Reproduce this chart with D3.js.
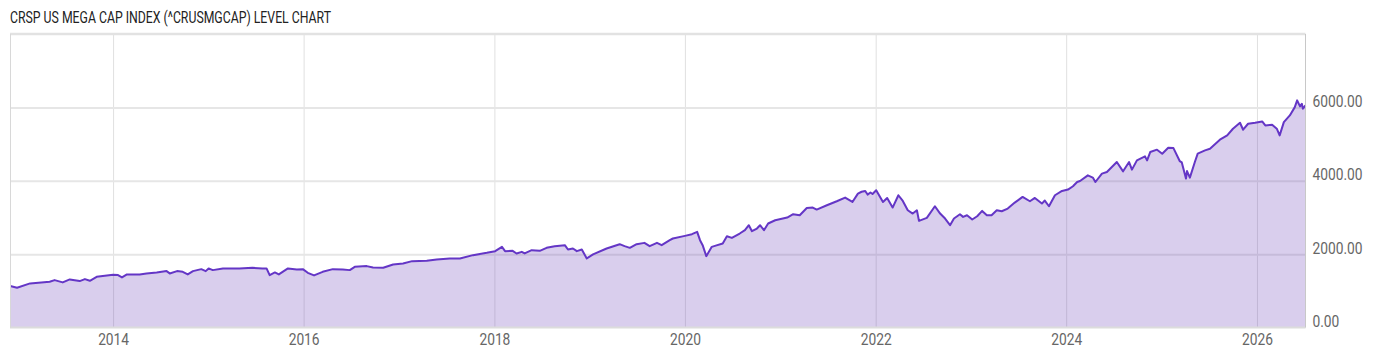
<!DOCTYPE html>
<html>
<head>
<meta charset="utf-8">
<script src="https://cdn.jsdelivr.net/npm/d3@7"></script>
<style>
    html, body { margin: 0; padding: 0; background: #fff; }
    #wrapper { width: 1400px; height: 357px; }
    text { font-family: Roboto, "Liberation Sans", sans-serif; }
</style>
</head>
<body>
<div id="wrapper"></div>
<script>

const titleText = 'CRSP US MEGA CAP INDEX (^CRUSMGCAP) LEVEL CHART';

const dates = [
    '2012-12-03', '2012-12-29', '2013-02-17', '2013-05-03', '2013-05-22', '2013-06-22', '2013-07-19', '2013-08-26',
    '2013-09-15', '2013-10-04', '2013-10-30', '2014-01-01', '2014-01-20', '2014-02-04', '2014-02-23', '2014-04-13',
    '2014-05-09', '2014-06-17', '2014-07-25', '2014-08-06', '2014-09-03', '2014-09-25', '2014-10-14', '2014-11-03',
    '2014-12-05', '2014-12-22', '2015-01-02', '2015-01-18', '2015-02-26', '2015-04-30', '2015-06-19', '2015-07-27',
    '2015-08-12', '2015-08-24', '2015-09-13', '2015-09-28', '2015-11-02', '2015-12-06', '2015-12-29', '2016-01-17',
    '2016-02-10', '2016-03-14', '2016-04-22', '2016-05-30', '2016-06-26', '2016-07-15', '2016-08-30', '2016-09-23',
    '2016-11-01', '2016-12-09', '2017-01-16', '2017-02-20', '2017-04-17', '2017-05-25', '2017-07-14', '2017-08-22',
    '2017-10-11', '2017-12-03', '2018-01-04', '2018-01-30', '2018-02-11', '2018-03-12', '2018-03-27', '2018-04-16',
    '2018-04-27', '2018-05-24', '2018-06-24', '2018-07-20', '2018-08-20', '2018-09-28', '2018-10-10', '2018-10-29',
    '2018-11-13', '2018-12-02', '2018-12-21', '2019-01-14', '2019-03-07', '2019-04-26', '2019-05-15', '2019-06-04',
    '2019-06-30', '2019-07-30', '2019-08-19', '2019-09-16', '2019-10-04', '2019-11-04', '2019-11-16', '2020-01-01',
    '2020-01-28', '2020-02-17', '2020-02-28', '2020-03-09', '2020-03-23', '2020-04-13', '2020-04-25', '2020-05-25',
    '2020-06-10', '2020-06-29', '2020-07-29', '2020-08-18', '2020-09-02', '2020-09-14', '2020-10-03', '2020-10-15',
    '2020-10-30', '2020-11-15', '2020-12-12', '2021-01-27', '2021-02-19', '2021-03-16', '2021-04-12', '2021-05-05',
    '2021-05-20', '2021-06-28', '2021-08-05', '2021-09-06', '2021-10-04', '2021-10-25', '2021-11-08', '2021-11-22',
    '2021-12-01', '2021-12-12', '2021-12-20', '2022-01-03', '2022-01-29', '2022-02-14', '2022-03-07', '2022-03-29',
    '2022-04-15', '2022-05-04', '2022-05-23', '2022-06-08', '2022-06-16', '2022-07-16', '2022-08-16', '2022-09-05',
    '2022-09-24', '2022-10-13', '2022-10-28', '2022-11-20', '2022-12-02', '2022-12-17', '2023-01-06', '2023-01-25',
    '2023-02-13', '2023-03-03', '2023-03-21', '2023-04-10', '2023-04-29', '2023-05-22', '2023-06-18', '2023-07-18',
    '2023-08-15', '2023-09-03', '2023-09-30', '2023-10-11', '2023-10-27', '2023-11-19', '2023-12-16', '2024-01-08',
    '2024-01-27', '2024-02-12', '2024-02-23', '2024-03-24', '2024-04-12', '2024-04-22', '2024-05-17', '2024-06-05',
    '2024-07-13', '2024-08-06', '2024-08-29', '2024-09-09', '2024-09-28', '2024-10-29', '2024-11-06', '2024-11-18',
    '2024-12-14', '2025-01-03', '2025-01-26', '2025-02-15', '2025-03-11', '2025-03-19', '2025-04-04', '2025-04-08',
    '2025-04-19', '2025-05-08', '2025-05-19', '2025-06-16', '2025-07-05', '2025-08-12', '2025-09-09', '2025-10-01',
    '2025-10-28', '2025-11-09', '2025-11-28', '2025-12-25', '2026-01-21', '2026-02-02', '2026-02-28', '2026-03-18',
    '2026-03-29', '2026-04-14', '2026-05-07', '2026-05-26', '2026-06-04', '2026-06-15', '2026-06-22', '2026-06-26',
    '2026-07-06'
];

const values = [
    1129, 1083, 1202, 1246, 1292, 1229, 1311, 1265,
    1319, 1273, 1382, 1436, 1428, 1365, 1447, 1447,
    1474, 1501, 1537, 1474, 1537, 1518, 1447, 1537,
    1591, 1537, 1610, 1564, 1610, 1610, 1627, 1610,
    1610, 1428, 1501, 1447, 1610, 1583, 1591, 1491,
    1420, 1518, 1591, 1583, 1564, 1654, 1673, 1637,
    1627, 1719, 1746, 1809, 1817, 1855, 1882, 1882,
    1972, 2035, 2081, 2198, 2081, 2089, 2018, 2062,
    2018, 2108, 2089, 2171, 2217, 2244, 2127, 2154,
    2081, 2127, 1882, 1991, 2154, 2271, 2217, 2171,
    2271, 2307, 2217, 2307, 2244, 2380, 2426, 2497,
    2543, 2606, 2380, 2244, 1945, 2198, 2225, 2290,
    2489, 2443, 2562, 2652, 2788, 2625, 2698, 2788,
    2652, 2834, 2924, 2997, 3087, 3060, 3259, 3269,
    3215, 3332, 3441, 3541, 3422, 3650, 3700, 3722,
    3623, 3680, 3640, 3741, 3422, 3531, 3269, 3605,
    3449, 3196, 3106, 3196, 2905, 2987, 3305, 3106,
    2970, 2788, 2970, 3087, 3015, 3060, 2943, 3033,
    3178, 3060, 3060, 3196, 3169, 3242, 3405, 3559,
    3441, 3531, 3378, 3460, 3305, 3605, 3722, 3759,
    3849, 3966, 3993, 4148, 4086, 3966, 4194, 4238,
    4510, 4257, 4510, 4303, 4556, 4665, 4556, 4782,
    4847, 4738, 4901, 4890, 4537, 4500, 4058, 4265,
    4086, 4510, 4738, 4828, 4874, 5119, 5236, 5418,
    5581, 5391, 5554, 5581, 5617, 5508, 5527, 5418,
    5236, 5598, 5781, 6007, 6190, 6026, 6100, 5963,
    6054
];

const yTicks = [0, 2000, 4000, 6000];
const yMax = 8000;
const xTickYears = [2014, 2016, 2018, 2020, 2022, 2024, 2026];
const xStart = '2012-12-02';
const xEnd = '2026-07-06';

// squeeze Roboto down to the narrow face used in the original
const squeeze = 0.86;

const parseDate = d3.timeParse('%Y-%m-%d');
const dataset = dates.map((d, i) => ({ date: parseDate(d), value: values[i] }));

const xAccessor = d => d.date;
const yAccessor = d => d.value;

const dimensions = {
    width: 1400,
    height: 357,
    margin: {
        top: 34,
        right: 94.5,
        bottom: 29.5,
        left: 10
    }
};
dimensions.boundedWidth = dimensions.width - dimensions.margin.left - dimensions.margin.right;
dimensions.boundedHeight = dimensions.height - dimensions.margin.top - dimensions.margin.bottom;

const wrapper = d3.select('#wrapper')
    .append('svg')
    .attr('width', dimensions.width)
    .attr('height', dimensions.height);

wrapper.append('text')
    .attr('x', 10)
    .attr('y', 23)
    .attr('fill', '#222')
    .style('font-size', '16px')
    .attr('textLength', 321)
    .attr('lengthAdjust', 'spacingAndGlyphs')
    .text(titleText);

const bounds = wrapper.append('g')
    .attr('transform', `translate(${dimensions.margin.left},${dimensions.margin.top})`);

const xScale = d3.scaleTime()
    .domain([parseDate(xStart), parseDate(xEnd)])
    .range([0, dimensions.boundedWidth]);

const yScale = d3.scaleLinear()
    .domain([0, yMax])
    .range([dimensions.boundedHeight, 0]);

const xTickDates = xTickYears.map(y => new Date(y, 0, 1));

// grid
const xGrid = bounds.append('g')
    .attr('transform', `translate(0,${dimensions.boundedHeight})`)
    .call(d3.axisBottom(xScale).tickValues(xTickDates).tickSize(-dimensions.boundedHeight).tickFormat(''));
xGrid.select('.domain').remove();
xGrid.selectAll('line').attr('stroke', '#e0e0e0').attr('stroke-width', 1);

const yGrid = bounds.append('g')
    .call(d3.axisLeft(yScale).tickValues(yTicks.filter(v => v > 0)).tickSize(-dimensions.boundedWidth).tickFormat(''));
yGrid.select('.domain').remove();
yGrid.selectAll('line').attr('stroke', '#e6e6e6').attr('stroke-width', 2);

// area + line
const areaGenerator = d3.area()
    .x(d => xScale(xAccessor(d)))
    .y0(yScale(0))
    .y1(d => yScale(yAccessor(d)));

bounds.append('path')
    .datum(dataset)
    .attr('d', areaGenerator)
    .attr('fill', '#673ab7')
    .attr('fill-opacity', 0.25);

const lineGenerator = d3.line()
    .x(d => xScale(xAccessor(d)))
    .y(d => yScale(yAccessor(d)));

bounds.append('path')
    .datum(dataset)
    .attr('d', lineGenerator)
    .attr('fill', 'none')
    .attr('stroke', '#6436c6')
    .attr('stroke-width', 2)
    .attr('stroke-linejoin', 'round');

// frame
bounds.append('line')
    .attr('x1', 0).attr('x2', dimensions.boundedWidth)
    .attr('y1', 0).attr('y2', 0)
    .attr('stroke', '#e2e2e2').attr('stroke-width', 2.5);
bounds.append('line')
    .attr('x1', 0).attr('x2', dimensions.boundedWidth)
    .attr('y1', dimensions.boundedHeight).attr('y2', dimensions.boundedHeight)
    .attr('stroke', '#dcdcdc').attr('stroke-width', 2);
bounds.append('line')
    .attr('x1', 0.5).attr('x2', 0.5)
    .attr('y1', 0).attr('y2', dimensions.boundedHeight)
    .attr('stroke', '#d8d8d8').attr('stroke-width', 1);
bounds.append('line')
    .attr('x1', dimensions.boundedWidth).attr('x2', dimensions.boundedWidth)
    .attr('y1', 0).attr('y2', dimensions.boundedHeight)
    .attr('stroke', '#c8c8c8').attr('stroke-width', 1);

// axes
const xAxis = bounds.append('g')
    .attr('transform', `translate(0,${dimensions.boundedHeight})`)
    .call(d3.axisBottom(xScale).tickValues(xTickDates).tickSize(0).tickPadding(6).tickFormat(d3.timeFormat('%Y')));
xAxis.select('.domain').remove();
xAxis.selectAll('text')
    .attr('fill', '#666')
    .style('font-size', '16px');

const yAxis = bounds.append('g')
    .attr('transform', `translate(${dimensions.boundedWidth},0)`)
    .call(d3.axisRight(yScale).tickValues(yTicks).tickSize(0).tickPadding(7).tickFormat(d3.format('.2f')));
yAxis.select('.domain').remove();
yAxis.selectAll('text')
    .attr('fill', '#666')
    .attr('dy', -1)
    .style('font-size', '16px');

[xAxis, yAxis].forEach(axis => {
    axis.selectAll('text').each(function () {
        const len = this.getComputedTextLength();
        d3.select(this)
            .attr('textLength', len * squeeze)
            .attr('lengthAdjust', 'spacingAndGlyphs');
    });
});

</script>
</body>
</html>
